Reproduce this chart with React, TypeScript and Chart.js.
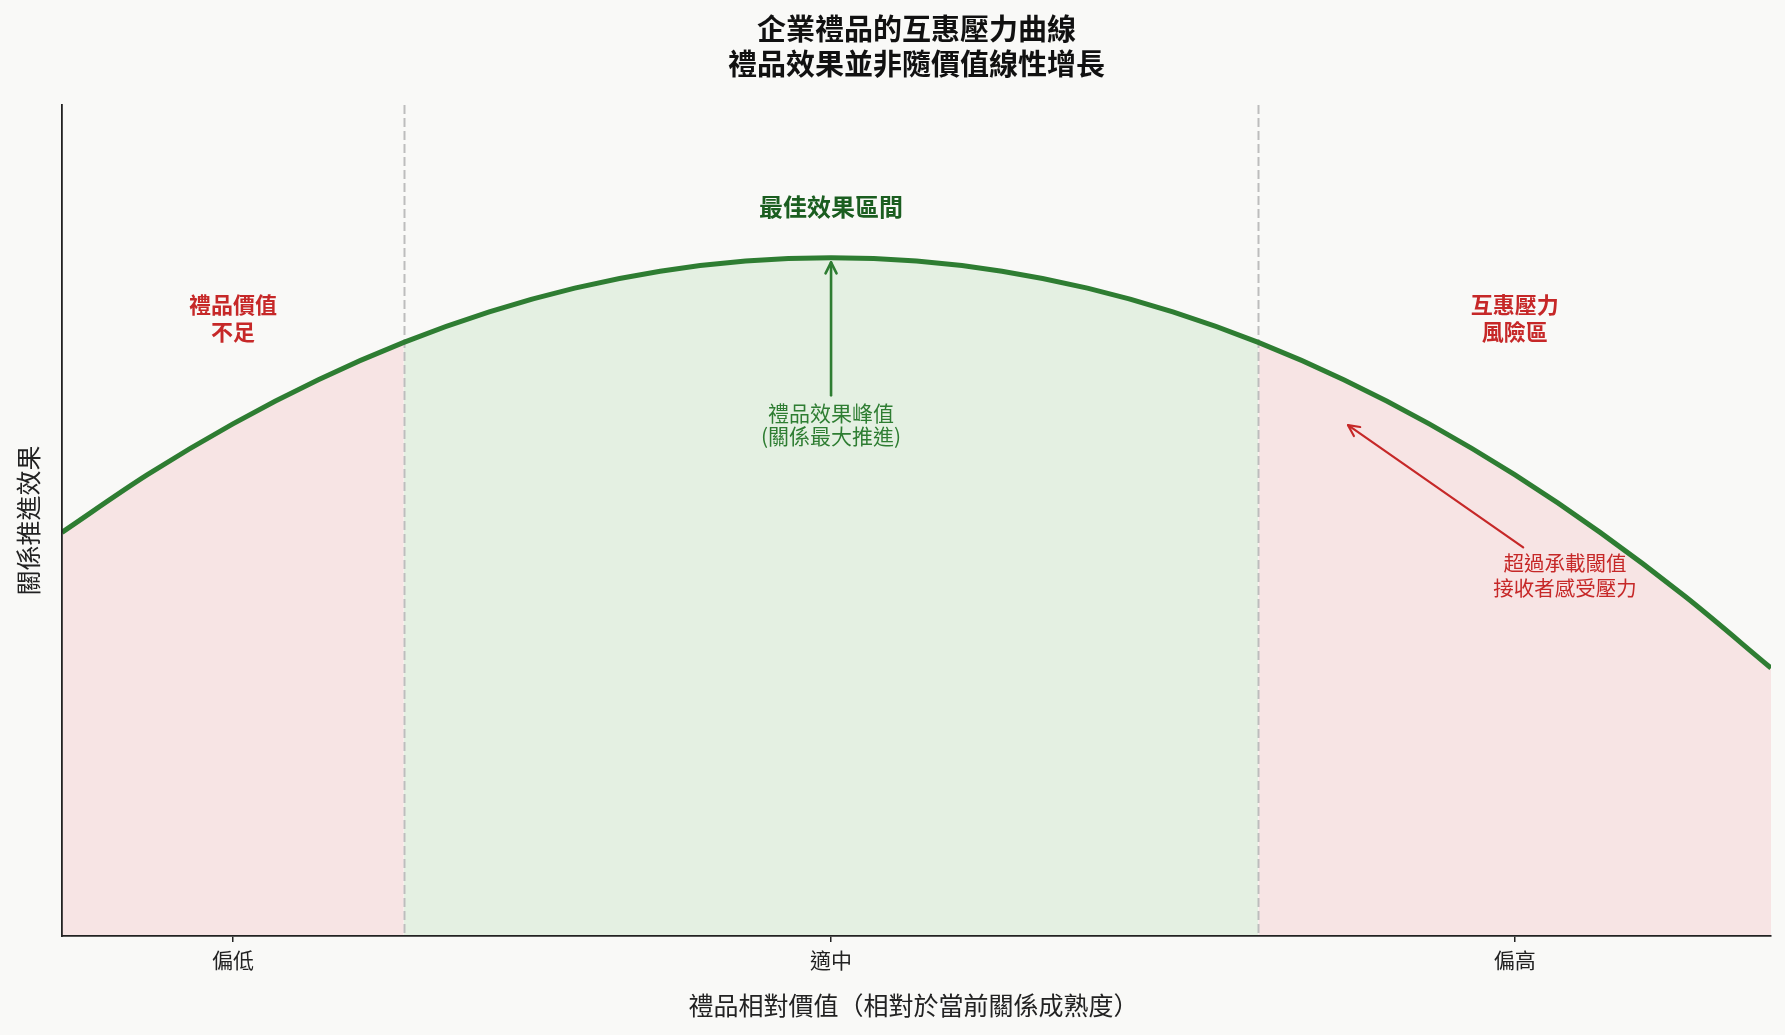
import { useEffect, useRef } from "react";
import { Chart, registerables } from "chart.js";

Chart.register(...registerables);

// ---- data ----
const giftValueX = [0, 0.5, 1, 1.5, 2, 2.5, 3, 3.5, 4, 4.5, 5, 5.5, 6, 6.5, 7, 7.5, 8, 8.5, 9, 9.5, 10];
const effectY = [0.595, 0.68, 0.755, 0.82, 0.875, 0.92, 0.955, 0.98, 0.995, 1.0, 0.995, 0.98, 0.955, 0.92, 0.875, 0.82, 0.755, 0.68, 0.595, 0.5, 0.395];
const tickValues = [1, 4.5, 8.5];
const tickLabels = ["偏低", "適中", "偏高"];
const zoneEdges = [0, 2, 7, 10];
const zoneKinds = ["low", "best", "high"];
const titleLines = ["企業禮品的互惠壓力曲線", "禮品效果並非隨價值線性增長"];
const xTitle = "禮品相對價值（相對於當前關係成熟度）";
const yTitle = "關係推進效果";
const zoneTitleLow = ["禮品價值", "不足"];
const zoneTitleBest = ["最佳效果區間"];
const zoneTitleHigh = ["互惠壓力", "風險區"];
const peakNote = ["禮品效果峰值", "(關係最大推進)"];
const pressureNote = ["超過承載閾值", "接收者感受壓力"];

const X_MIN = 0;
const X_MAX = 10;
const Y_MIN = 0;
const Y_MAX = 1.225;

const FONT = '"Noto Sans CJK TC", "Noto Sans", sans-serif';
const GREEN = "#2e7d32";
const DARK_GREEN = "#1b5e20";
const RED = "#c62828";
const BG = "#f9f9f7";
const AXIS = "#222222";

const zoneFill: Record<string, string> = {
  low: "#f7e4e4",
  best: "#e4f0e2",
  high: "#f7e4e4",
};

function pointsBetween(a: number, b: number) {
  const pts: { x: number; y: number }[] = [];
  giftValueX.forEach((x, i) => {
    if (x >= a && x <= b) pts.push({ x, y: effectY[i] });
  });
  return pts;
}

function drawArrow(
  ctx: CanvasRenderingContext2D,
  x1: number, y1: number, x2: number, y2: number,
  color: string, width: number
) {
  ctx.save();
  ctx.strokeStyle = color;
  ctx.lineWidth = width;
  ctx.lineCap = "round";
  ctx.lineJoin = "round";
  ctx.beginPath();
  ctx.moveTo(x1, y1);
  ctx.lineTo(x2, y2);
  ctx.stroke();
  const a = Math.atan2(y2 - y1, x2 - x1);
  const len = 11;
  const half = 5.5;
  const bx = x2 - len * Math.cos(a);
  const by = y2 - len * Math.sin(a);
  const nx = -Math.sin(a);
  const ny = Math.cos(a);
  ctx.beginPath();
  ctx.moveTo(bx + nx * half, by + ny * half);
  ctx.lineTo(x2, y2);
  ctx.lineTo(bx - nx * half, by - ny * half);
  ctx.stroke();
  ctx.restore();
}

function drawLines(
  ctx: CanvasRenderingContext2D, lines: string[], cx: number, firstY: number,
  gap: number, font: string, color: string
) {
  ctx.save();
  ctx.font = font;
  ctx.fillStyle = color;
  ctx.textAlign = "center";
  ctx.textBaseline = "middle";
  lines.forEach((t, i) => ctx.fillText(t, cx, firstY + i * gap));
  ctx.restore();
}

const overlayPlugin = {
  id: "overlay",
  beforeDatasetDraw(chart: any, args: any) {
    if (args.index !== 0) return;
    const { ctx, chartArea, scales } = chart;
    ctx.save();
    ctx.strokeStyle = "#bdbdbd";
    ctx.lineWidth = 2;
    ctx.setLineDash([9, 4]);
    [zoneEdges[1], zoneEdges[2]].forEach((v) => {
      const px = Math.round(scales.x.getPixelForValue(v)) + 0.5;
      ctx.beginPath();
      ctx.moveTo(px, chartArea.top);
      ctx.lineTo(px, chartArea.bottom);
      ctx.stroke();
    });
    ctx.restore();
  },
  afterDraw(chart: any) {
    const { ctx, chartArea, scales } = chart;
    const X = (v: number) => scales.x.getPixelForValue(v);
    const Y = (v: number) => scales.y.getPixelForValue(v);
    const cx = (chartArea.left + chartArea.right) / 2;

    // title
    drawLines(ctx, titleLines, cx, 29, 35, `bold 29px ${FONT}`, "#111");

    // axis titles
    drawLines(ctx, [xTitle], cx - 3, 1005, 0, `25px ${FONT}`, AXIS);
    ctx.save();
    ctx.translate(28, (chartArea.top + chartArea.bottom) / 2);
    ctx.rotate(-Math.PI / 2);
    drawLines(ctx, [yTitle], 0, 0, 0, `25px ${FONT}`, AXIS);
    ctx.restore();

    // zone labels
    drawLines(ctx, zoneTitleLow, X(1), Y(0.931), 27, `bold 22px ${FONT}`, RED);
    drawLines(ctx, zoneTitleHigh, X(8.5), Y(0.931), 27, `bold 22px ${FONT}`, RED);
    drawLines(ctx, zoneTitleBest, X(4.5), Y(1.075), 0, `bold 24px ${FONT}`, DARK_GREEN);

    // peak annotation
    drawArrow(ctx, X(4.5), Y(0.797), X(4.5), Y(0.993), GREEN, 2.6);
    drawLines(ctx, peakNote, X(4.5), Y(0.771), 23, `21px ${FONT}`, GREEN);

    // pressure annotation
    drawArrow(ctx, X(8.55), Y(0.573), X(7.525), Y(0.753), RED, 2.2);
    drawLines(ctx, pressureNote, X(8.795), Y(0.549), 25, `20.5px ${FONT}`, RED);
  },
};

export default function App() {
  const canvasRef = useRef<HTMLCanvasElement | null>(null);

  useEffect(() => {
    const canvas = canvasRef.current;
    if (!canvas) return;

    const curve = giftValueX.map((x, i) => ({ x, y: effectY[i] }));
    const fills = zoneKinds.map((kind, i) => ({
      label: kind,
      data: pointsBetween(zoneEdges[i], zoneEdges[i + 1]),
      borderWidth: 0,
      borderColor: "rgba(0,0,0,0)",
      backgroundColor: zoneFill[kind],
      fill: "origin",
      pointRadius: 0,
      cubicInterpolationMode: "monotone" as const,
      order: 1,
    }));

    const chart = new Chart(canvas, {
      type: "line",
      data: {
        datasets: [
          {
            label: "curve",
            data: curve,
            borderColor: GREEN,
            borderWidth: 5,
            pointRadius: 0,
            fill: false,
            cubicInterpolationMode: "monotone",
            order: 0,
          },
          ...fills,
        ] as any,
      },
      options: {
        animation: false,
        responsive: false,
        devicePixelRatio: 1,
        layout: { padding: { top: 105, right: 14, left: 0, bottom: 0 } },
        plugins: {
          legend: { display: false },
          tooltip: { enabled: false },
          title: { display: false },
        },
        scales: {
          x: {
            type: "linear",
            min: X_MIN,
            max: X_MAX,
            afterBuildTicks: (scale: any) => {
              scale.ticks = tickValues.map((v) => ({ value: v }));
            },
            afterFit: (scale: any) => {
              scale.height = 99;
            },
            ticks: {
              callback: (_v: any, i: number) => tickLabels[i],
              font: { family: FONT, size: 21 },
              color: AXIS,
              padding: 5,
              maxRotation: 0,
            },
            grid: {
              display: true,
              drawOnChartArea: false,
              drawTicks: true,
              tickLength: 6,
              color: AXIS,
              lineWidth: 1.5,
              z: 1,
            },
            border: { display: true, color: AXIS, width: 1.8, z: 2 },
          },
          y: {
            type: "linear",
            min: Y_MIN,
            max: Y_MAX,
            afterFit: (scale: any) => {
              scale.width = 62;
            },
            ticks: { display: false },
            grid: { display: false },
            border: { display: true, color: AXIS, width: 1.8, z: 2 },
          },
        },
      } as any,
      plugins: [overlayPlugin],
    });

    return () => chart.destroy();
  }, []);

  return (
    <div
      style={{
        position: "fixed",
        left: 0,
        top: 0,
        width: 1785,
        height: 1035,
        background: BG,
      }}
    >
      <canvas ref={canvasRef} width={1785} height={1035} style={{ display: "block" }} />
    </div>
  );
}
